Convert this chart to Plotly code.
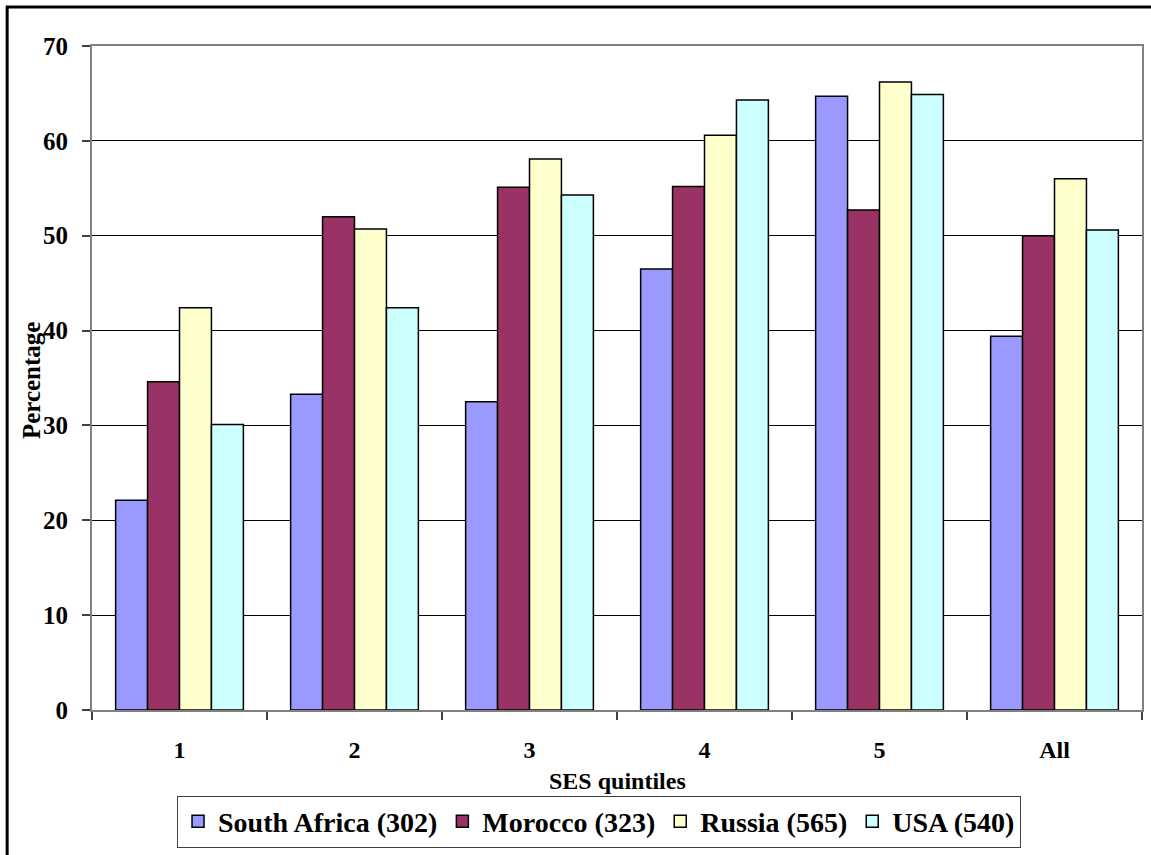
import plotly.graph_objects as go

# SES quintile categories and percentage per country
categories = ["1", "2", "3", "4", "5", "All"]
south_africa = [22.1, 33.3, 32.5, 46.5, 64.7, 39.4]
morocco = [34.6, 52.0, 55.1, 55.2, 52.7, 50.0]
russia = [42.4, 50.7, 58.1, 60.6, 66.2, 56.0]
usa = [30.1, 42.4, 54.3, 64.3, 64.9, 50.6]

series = [
    ("South Africa (302)", south_africa, "#9999FF"),
    ("Morocco (323)", morocco, "#993366"),
    ("Russia (565)", russia, "#FFFFCC"),
    ("USA (540)", usa, "#CCFFFF"),
]

FONT = "Liberation Serif"

W, H = 1151, 855
L, R, T, B = 92, 7, 46, 143
plot_w = W - L - R
plot_h = H - T - B


def px_to_paper_x(px):
    return (px - L) / plot_w


def px_to_paper_y(py):
    return (H - B - py) / plot_h


fig = go.Figure()
for name, vals, color in series:
    fig.add_trace(go.Bar(
        name=name,
        x=categories,
        y=vals,
        marker=dict(color=color, line=dict(color="black", width=1.5)),
    ))

fig.update_layout(
    width=W,
    height=H,
    margin=dict(l=L, r=R, t=T, b=B, pad=0),
    paper_bgcolor="white",
    plot_bgcolor="white",
    barmode="group",
    bargap=0.27,
    bargroupgap=0,
    font=dict(family=FONT, color="black"),
    showlegend=True,
    legend=dict(
        orientation="h",
        x=px_to_paper_x(600),
        y=px_to_paper_y(824),
        xanchor="center",
        yanchor="middle",
        font=dict(family=FONT, size=28, weight="bold", color="black"),
        bordercolor="#404040",
        borderwidth=1,
        bgcolor="white",
        traceorder="normal",
        itemwidth=30,
    ),
    xaxis=dict(
        type="category",
        showgrid=False,
        showline=True,
        linecolor="#808080",
        linewidth=2,
        mirror=True,
        ticks="outside",
        tickson="boundaries",
        ticklen=8,
        tickcolor="#404040",
        tickwidth=1.5,
        tickfont=dict(family=FONT, size=24, weight="bold", color="black"),
        ticklabelstandoff=17,
    ),
    yaxis=dict(
        range=[0, 70],
        dtick=10,
        showgrid=True,
        gridcolor="black",
        gridwidth=1,
        showline=True,
        linecolor="#808080",
        linewidth=2,
        mirror=True,
        ticks="outside",
        ticklen=8,
        tickcolor="#404040",
        tickwidth=1.5,
        tickfont=dict(family=FONT, size=25, weight="bold", color="black"),
        ticklabelstandoff=9,
        zeroline=False,
    ),
    annotations=[
        dict(
            text="SES quintiles",
            xref="paper", yref="paper",
            x=0.5, y=px_to_paper_y(783),
            xanchor="center", yanchor="middle",
            showarrow=False,
            font=dict(family=FONT, size=24, weight="bold", color="black"),
        ),
        dict(
            text="Percentage",
            xref="paper", yref="paper",
            x=px_to_paper_x(32), y=px_to_paper_y(381),
            xanchor="center", yanchor="middle",
            textangle=-90,
            showarrow=False,
            font=dict(family=FONT, size=25, weight="bold", color="black"),
        ),
    ],
    shapes=[
        dict(
            type="rect",
            xref="paper", yref="paper",
            x0=px_to_paper_x(7), x1=px_to_paper_x(1165),
            y0=px_to_paper_y(870), y1=px_to_paper_y(7),
            line=dict(color="black", width=3),
            fillcolor="rgba(0,0,0,0)",
            layer="above",
        ),
    ],
)

fig.write_html("out.html")
